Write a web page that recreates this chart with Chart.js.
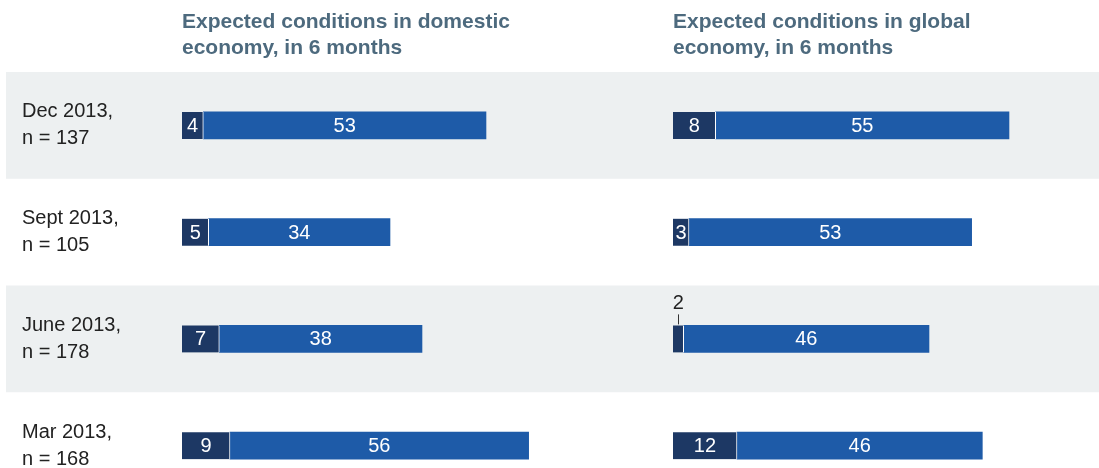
<!DOCTYPE html>
<html>
<head>
<meta charset="utf-8">
<script src="https://cdn.jsdelivr.net/npm/chart.js@4.4.1/dist/chart.umd.min.js"></script>
<style>
  html, body { margin: 0; padding: 0; background: #fff; overflow: hidden; }
  #wrap { position: relative; width: 1099px; height: 468px; overflow: hidden; }
  #wrap canvas { position: absolute; left: 0; top: 0; }
</style>
</head>
<body>
<div id="wrap">
  <canvas id="domestic" width="1099" height="499"></canvas>
  <canvas id="global" width="1099" height="499"></canvas>
</div>
<script>
// survey waves (row labels)
const periods = [
  ['Dec 2013,', 'n = 137'],
  ['Sept 2013,', 'n = 105'],
  ['June 2013,', 'n = 178'],
  ['Mar 2013,', 'n = 168']
];
// % of respondents
const domesticWorse  = [4, 5, 7, 9];
const domesticBetter = [53, 34, 38, 56];
const globalWorse    = [8, 3, 2, 12];
const globalBetter   = [55, 53, 46, 46];

const domesticTitle = ['Expected conditions in domestic', 'economy, in 6 months'];
const globalTitle   = ['Expected conditions in global', 'economy, in 6 months'];

const FONT = "'Liberation Sans', Arial, Helvetica, sans-serif";
const DARK = '#1d3864';
const BLUE = '#1e5ba8';
const BAND = '#edf0f1';
const SCALE_MAX = 75;

// alternating grey row bands, full width
const bandsPlugin = {
  id: 'bands',
  beforeDraw(chart) {
    const y = chart.scales.y;
    const ctx = chart.ctx;
    const half = (y.getPixelForValue(1) - y.getPixelForValue(0)) / 2;
    ctx.save();
    ctx.fillStyle = BAND;
    periods.forEach((p, i) => {
      if (i % 2) return;
      const c = y.getPixelForValue(i);
      ctx.fillRect(6, c - half, chart.width - 6, half * 2);
    });
    ctx.restore();
  }
};

// panel heading above the bars
const headingPlugin = {
  id: 'heading',
  afterDraw(chart, args, opts) {
    const ctx = chart.ctx;
    ctx.save();
    ctx.font = 'bold 21px ' + FONT;
    ctx.fillStyle = '#4d6a7e';
    ctx.textAlign = 'left';
    ctx.textBaseline = 'alphabetic';
    opts.lines.forEach((t, i) => ctx.fillText(t, chart.chartArea.left, 28 + i * 26));
    ctx.restore();
  }
};

// value labels inside the segments; narrow ones get a label above with a tick
const valuesPlugin = {
  id: 'values',
  afterDatasetsDraw(chart) {
    const ctx = chart.ctx;
    ctx.save();
    ctx.font = '20px ' + FONT;
    ctx.textAlign = 'center';
    chart.data.datasets.forEach((ds, di) => {
      chart.getDatasetMeta(di).data.forEach((bar, i) => {
        const v = ds.data[i];
        const w = Math.abs(bar.x - bar.base);
        const cx = (bar.x + bar.base) / 2;
        if (w >= 14) {
          ctx.fillStyle = '#fff';
          ctx.textBaseline = 'middle';
          ctx.fillText(v, cx, bar.y + 1);
        } else {
          const top = bar.y - bar.height / 2;
          ctx.strokeStyle = '#333';
          ctx.lineWidth = 1;
          ctx.beginPath();
          ctx.moveTo(Math.round(cx) + 0.5, top - 1);
          ctx.lineTo(Math.round(cx) + 0.5, top - 11);
          ctx.stroke();
          ctx.fillStyle = '#222';
          ctx.textBaseline = 'alphabetic';
          ctx.fillText(v, cx, top - 16);
        }
      });
    });
    ctx.restore();
  }
};

function makeChart(id, worse, better, title, withLabels) {
  const padLeft = withLabels ? 22 : 673;
  const areaLeft = withLabels ? 182 : 673;
  const padRight = 1099 - (areaLeft + SCALE_MAX * 5.333);
  return new Chart(document.getElementById(id), {
    type: 'bar',
    data: {
      labels: periods,
      datasets: [
        { data: worse, backgroundColor: DARK, borderColor: '#fff',
          borderWidth: { top: 0, bottom: 0, left: 0, right: 1 }, borderSkipped: false },
        { data: better, backgroundColor: BLUE, borderWidth: 0 }
      ]
    },
    options: {
      indexAxis: 'y',
      responsive: false,
      animation: false,
      events: [],
      layout: { padding: { top: 72, left: padLeft, right: padRight, bottom: 0 } },
      datasets: { bar: { barThickness: 27 } },
      plugins: {
        legend: { display: false },
        tooltip: { enabled: false },
        heading: { lines: title }
      },
      scales: {
        x: { stacked: true, min: 0, max: SCALE_MAX, display: false },
        y: {
          stacked: true,
          display: withLabels,
          grid: { display: false },
          border: { display: false },
          ticks: {
            crossAlign: 'far', padding: 0, color: '#222',
            font: { family: FONT, size: 20, lineHeight: '27px' }
          },
          afterFit: s => {
            if (withLabels) s.width = 160;
            s.paddingTop = 0;
            s.paddingBottom = 0;
          }
        }
      }
    },
    plugins: withLabels ? [bandsPlugin, headingPlugin, valuesPlugin] : [headingPlugin, valuesPlugin]
  });
}

makeChart('domestic', domesticWorse, domesticBetter, domesticTitle, true);
makeChart('global', globalWorse, globalBetter, globalTitle, false);
</script>
</body>
</html>
